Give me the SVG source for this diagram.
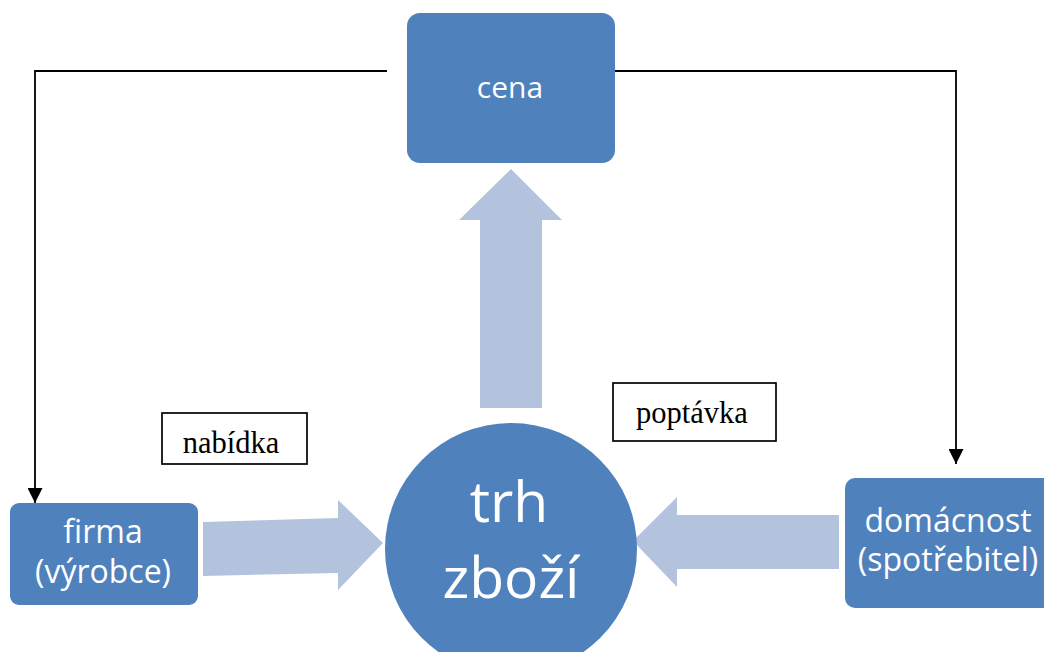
<svg xmlns="http://www.w3.org/2000/svg" width="1044" height="652" viewBox="0 0 1044 652">
<defs>
<style>
.node{fill:#4F81BD;}
.big{fill:#B3C3DE;}
.nt{fill:#FFFFFF;font-family:"Open Sans","Liberation Sans",sans-serif;text-anchor:middle;}
.lbl{fill:#FFFFFF;stroke:#000;stroke-width:1.7;}
.lt{fill:#000;font-family:"Liberation Serif","Times New Roman",serif;font-size:30.5px;text-anchor:middle;}
.conn{fill:none;stroke:#000;stroke-width:1.8;}
</style>
<marker id="ah" markerWidth="15" markerHeight="15" viewBox="0 0 15 15" refX="15" refY="7.5" orient="auto" markerUnits="userSpaceOnUse">
<path d="M0,0 L15,7.5 L0,15 Z" fill="#000"/>
</marker>
</defs>
<rect width="1044" height="652" fill="#FFFFFF"/>
<g id="flows">
<path class="big" d="M480,408 L480,220 L459,220 L511,169 L562,220 L542,220 L542,408 Z"/>
<path class="big" d="M203,522 L338,518 L338,500 L383,543 L338,590 L338,573 L203,576 Z"/>
<path class="big" d="M839,515 L677,515 L677,497 L633,541 L677,587 L677,569 L839,569 Z"/>
</g>
<g id="connectors">
<path class="conn" d="M387,71 L35,71 L35,503" marker-end="url(#ah)"/>
<path class="conn" d="M613,71 L956,71 L956,464" marker-end="url(#ah)"/>
</g>
<g id="cena">
<rect class="node" x="407" y="13" width="208" height="150" rx="13"/>
<text class="nt" x="510" y="98" font-size="30">cena</text>
</g>
<g id="trh">
<circle class="node" cx="511" cy="549" r="126"/>
<text class="nt" x="509" y="522" font-size="57">trh</text>
<text class="nt" x="511" y="598" font-size="57">zboží</text>
</g>
<g id="firma">
<rect class="node" x="10" y="503" width="188" height="102" rx="9"/>
<text class="nt" x="103" y="543" font-size="32">firma</text>
<text class="nt" x="103" y="583" font-size="32">(výrobce)</text>
</g>
<g id="domacnost">
<rect class="node" x="845" y="478" width="212" height="130" rx="10"/>
<text class="nt" x="948" y="532" font-size="32">domácnost</text>
<text class="nt" x="948" y="571" font-size="32">(spotřebitel)</text>
</g>
<g id="nabidka">
<rect class="lbl" x="162" y="413" width="145" height="51"/>
<text class="lt" x="231" y="453">nabídka</text>
</g>
<g id="poptavka">
<rect class="lbl" x="613" y="383" width="163" height="58"/>
<text class="lt" x="692" y="423">poptávka</text>
</g>
</svg>
